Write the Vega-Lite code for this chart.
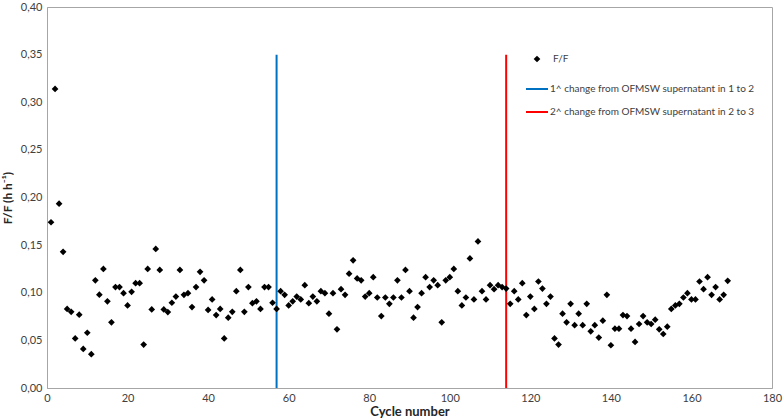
{
  "$schema": "https://vega.github.io/schema/vega-lite/v6.json",
  "autosize": {"type": "none"},
  "padding": {"left": 47, "top": 7, "right": 12, "bottom": 31},
  "width": 725,
  "height": 381,
  "background": "white",
  "config": {
    "font": "Lato",
    "view": {"stroke": "#a6a6a6", "strokeWidth": 1},
    "axis": {"labelFont": "Lato", "titleFont": "Lato", "labelColor": "#404040", "titleColor": "#262626", "domainColor": "#a6a6a6", "grid": false, "ticks": false}
  },
  "datasets": {
    "ff": [
      {"cycle": 1, "ff": 0.174, "series": "F/F"},
      {"cycle": 2, "ff": 0.314, "series": "F/F"},
      {"cycle": 3, "ff": 0.1935, "series": "F/F"},
      {"cycle": 4, "ff": 0.143, "series": "F/F"},
      {"cycle": 5, "ff": 0.083, "series": "F/F"},
      {"cycle": 6, "ff": 0.080, "series": "F/F"},
      {"cycle": 7, "ff": 0.052, "series": "F/F"},
      {"cycle": 8, "ff": 0.077, "series": "F/F"},
      {"cycle": 9, "ff": 0.041, "series": "F/F"},
      {"cycle": 10, "ff": 0.058, "series": "F/F"},
      {"cycle": 11, "ff": 0.0355, "series": "F/F"},
      {"cycle": 12, "ff": 0.113, "series": "F/F"},
      {"cycle": 13, "ff": 0.098, "series": "F/F"},
      {"cycle": 14, "ff": 0.125, "series": "F/F"},
      {"cycle": 15, "ff": 0.091, "series": "F/F"},
      {"cycle": 16, "ff": 0.069, "series": "F/F"},
      {"cycle": 17, "ff": 0.106, "series": "F/F"},
      {"cycle": 18, "ff": 0.106, "series": "F/F"},
      {"cycle": 19, "ff": 0.0996, "series": "F/F"},
      {"cycle": 20, "ff": 0.0867, "series": "F/F"},
      {"cycle": 21, "ff": 0.101, "series": "F/F"},
      {"cycle": 22, "ff": 0.110, "series": "F/F"},
      {"cycle": 23, "ff": 0.110, "series": "F/F"},
      {"cycle": 24, "ff": 0.0456, "series": "F/F"},
      {"cycle": 25, "ff": 0.125, "series": "F/F"},
      {"cycle": 26, "ff": 0.0825, "series": "F/F"},
      {"cycle": 27, "ff": 0.146, "series": "F/F"},
      {"cycle": 28, "ff": 0.124, "series": "F/F"},
      {"cycle": 29, "ff": 0.0825, "series": "F/F"},
      {"cycle": 30, "ff": 0.0797, "series": "F/F"},
      {"cycle": 31, "ff": 0.0895, "series": "F/F"},
      {"cycle": 32, "ff": 0.096, "series": "F/F"},
      {"cycle": 33, "ff": 0.124, "series": "F/F"},
      {"cycle": 34, "ff": 0.0978, "series": "F/F"},
      {"cycle": 35, "ff": 0.0996, "series": "F/F"},
      {"cycle": 36, "ff": 0.085, "series": "F/F"},
      {"cycle": 37, "ff": 0.106, "series": "F/F"},
      {"cycle": 38, "ff": 0.122, "series": "F/F"},
      {"cycle": 39, "ff": 0.113, "series": "F/F"},
      {"cycle": 40, "ff": 0.082, "series": "F/F"},
      {"cycle": 41, "ff": 0.093, "series": "F/F"},
      {"cycle": 42, "ff": 0.0766, "series": "F/F"},
      {"cycle": 43, "ff": 0.083, "series": "F/F"},
      {"cycle": 44, "ff": 0.052, "series": "F/F"},
      {"cycle": 45, "ff": 0.0738, "series": "F/F"},
      {"cycle": 46, "ff": 0.080, "series": "F/F"},
      {"cycle": 47, "ff": 0.1016, "series": "F/F"},
      {"cycle": 48, "ff": 0.124, "series": "F/F"},
      {"cycle": 49, "ff": 0.080, "series": "F/F"},
      {"cycle": 50, "ff": 0.106, "series": "F/F"},
      {"cycle": 51, "ff": 0.089, "series": "F/F"},
      {"cycle": 52, "ff": 0.091, "series": "F/F"},
      {"cycle": 53, "ff": 0.083, "series": "F/F"},
      {"cycle": 54, "ff": 0.106, "series": "F/F"},
      {"cycle": 55, "ff": 0.106, "series": "F/F"},
      {"cycle": 56, "ff": 0.0895, "series": "F/F"},
      {"cycle": 57, "ff": 0.083, "series": "F/F"},
      {"cycle": 58, "ff": 0.1016, "series": "F/F"},
      {"cycle": 59, "ff": 0.0978, "series": "F/F"},
      {"cycle": 60, "ff": 0.0867, "series": "F/F"},
      {"cycle": 61, "ff": 0.091, "series": "F/F"},
      {"cycle": 62, "ff": 0.096, "series": "F/F"},
      {"cycle": 63, "ff": 0.093, "series": "F/F"},
      {"cycle": 64, "ff": 0.108, "series": "F/F"},
      {"cycle": 65, "ff": 0.089, "series": "F/F"},
      {"cycle": 66, "ff": 0.096, "series": "F/F"},
      {"cycle": 67, "ff": 0.091, "series": "F/F"},
      {"cycle": 68, "ff": 0.1016, "series": "F/F"},
      {"cycle": 69, "ff": 0.0996, "series": "F/F"},
      {"cycle": 70, "ff": 0.078, "series": "F/F"},
      {"cycle": 71, "ff": 0.0996, "series": "F/F"},
      {"cycle": 72, "ff": 0.0616, "series": "F/F"},
      {"cycle": 73, "ff": 0.1037, "series": "F/F"},
      {"cycle": 74, "ff": 0.0978, "series": "F/F"},
      {"cycle": 75, "ff": 0.120, "series": "F/F"},
      {"cycle": 76, "ff": 0.134, "series": "F/F"},
      {"cycle": 77, "ff": 0.115, "series": "F/F"},
      {"cycle": 78, "ff": 0.113, "series": "F/F"},
      {"cycle": 79, "ff": 0.096, "series": "F/F"},
      {"cycle": 80, "ff": 0.0996, "series": "F/F"},
      {"cycle": 81, "ff": 0.1163, "series": "F/F"},
      {"cycle": 82, "ff": 0.095, "series": "F/F"},
      {"cycle": 83, "ff": 0.0755, "series": "F/F"},
      {"cycle": 84, "ff": 0.095, "series": "F/F"},
      {"cycle": 85, "ff": 0.0884, "series": "F/F"},
      {"cycle": 86, "ff": 0.095, "series": "F/F"},
      {"cycle": 87, "ff": 0.113, "series": "F/F"},
      {"cycle": 88, "ff": 0.095, "series": "F/F"},
      {"cycle": 89, "ff": 0.124, "series": "F/F"},
      {"cycle": 90, "ff": 0.1016, "series": "F/F"},
      {"cycle": 91, "ff": 0.0738, "series": "F/F"},
      {"cycle": 92, "ff": 0.085, "series": "F/F"},
      {"cycle": 93, "ff": 0.0996, "series": "F/F"},
      {"cycle": 94, "ff": 0.1163, "series": "F/F"},
      {"cycle": 95, "ff": 0.106, "series": "F/F"},
      {"cycle": 96, "ff": 0.113, "series": "F/F"},
      {"cycle": 97, "ff": 0.108, "series": "F/F"},
      {"cycle": 98, "ff": 0.069, "series": "F/F"},
      {"cycle": 99, "ff": 0.113, "series": "F/F"},
      {"cycle": 100, "ff": 0.1163, "series": "F/F"},
      {"cycle": 101, "ff": 0.125, "series": "F/F"},
      {"cycle": 102, "ff": 0.1016, "series": "F/F"},
      {"cycle": 103, "ff": 0.0867, "series": "F/F"},
      {"cycle": 104, "ff": 0.095, "series": "F/F"},
      {"cycle": 105, "ff": 0.136, "series": "F/F"},
      {"cycle": 106, "ff": 0.093, "series": "F/F"},
      {"cycle": 107, "ff": 0.1539, "series": "F/F"},
      {"cycle": 108, "ff": 0.1016, "series": "F/F"},
      {"cycle": 109, "ff": 0.093, "series": "F/F"},
      {"cycle": 110, "ff": 0.108, "series": "F/F"},
      {"cycle": 111, "ff": 0.1037, "series": "F/F"},
      {"cycle": 112, "ff": 0.108, "series": "F/F"},
      {"cycle": 113, "ff": 0.106, "series": "F/F"},
      {"cycle": 114, "ff": 0.1044, "series": "F/F"},
      {"cycle": 115, "ff": 0.0884, "series": "F/F"},
      {"cycle": 116, "ff": 0.1016, "series": "F/F"},
      {"cycle": 117, "ff": 0.093, "series": "F/F"},
      {"cycle": 118, "ff": 0.110, "series": "F/F"},
      {"cycle": 119, "ff": 0.0766, "series": "F/F"},
      {"cycle": 120, "ff": 0.096, "series": "F/F"},
      {"cycle": 121, "ff": 0.083, "series": "F/F"},
      {"cycle": 122, "ff": 0.1118, "series": "F/F"},
      {"cycle": 123, "ff": 0.1044, "series": "F/F"},
      {"cycle": 124, "ff": 0.0884, "series": "F/F"},
      {"cycle": 125, "ff": 0.096, "series": "F/F"},
      {"cycle": 126, "ff": 0.052, "series": "F/F"},
      {"cycle": 127, "ff": 0.0456, "series": "F/F"},
      {"cycle": 128, "ff": 0.078, "series": "F/F"},
      {"cycle": 129, "ff": 0.069, "series": "F/F"},
      {"cycle": 130, "ff": 0.0884, "series": "F/F"},
      {"cycle": 131, "ff": 0.066, "series": "F/F"},
      {"cycle": 132, "ff": 0.078, "series": "F/F"},
      {"cycle": 133, "ff": 0.066, "series": "F/F"},
      {"cycle": 134, "ff": 0.0884, "series": "F/F"},
      {"cycle": 135, "ff": 0.0595, "series": "F/F"},
      {"cycle": 136, "ff": 0.066, "series": "F/F"},
      {"cycle": 137, "ff": 0.0529, "series": "F/F"},
      {"cycle": 138, "ff": 0.0707, "series": "F/F"},
      {"cycle": 139, "ff": 0.0978, "series": "F/F"},
      {"cycle": 140, "ff": 0.0449, "series": "F/F"},
      {"cycle": 141, "ff": 0.0623, "series": "F/F"},
      {"cycle": 142, "ff": 0.0623, "series": "F/F"},
      {"cycle": 143, "ff": 0.0766, "series": "F/F"},
      {"cycle": 144, "ff": 0.0755, "series": "F/F"},
      {"cycle": 145, "ff": 0.0623, "series": "F/F"},
      {"cycle": 146, "ff": 0.0484, "series": "F/F"},
      {"cycle": 147, "ff": 0.0672, "series": "F/F"},
      {"cycle": 148, "ff": 0.0755, "series": "F/F"},
      {"cycle": 149, "ff": 0.069, "series": "F/F"},
      {"cycle": 150, "ff": 0.0672, "series": "F/F"},
      {"cycle": 151, "ff": 0.0717, "series": "F/F"},
      {"cycle": 152, "ff": 0.0616, "series": "F/F"},
      {"cycle": 153, "ff": 0.0567, "series": "F/F"},
      {"cycle": 154, "ff": 0.0644, "series": "F/F"},
      {"cycle": 155, "ff": 0.083, "series": "F/F"},
      {"cycle": 156, "ff": 0.0867, "series": "F/F"},
      {"cycle": 157, "ff": 0.0884, "series": "F/F"},
      {"cycle": 158, "ff": 0.095, "series": "F/F"},
      {"cycle": 159, "ff": 0.0996, "series": "F/F"},
      {"cycle": 160, "ff": 0.093, "series": "F/F"},
      {"cycle": 161, "ff": 0.093, "series": "F/F"},
      {"cycle": 162, "ff": 0.1118, "series": "F/F"},
      {"cycle": 163, "ff": 0.1037, "series": "F/F"},
      {"cycle": 164, "ff": 0.1163, "series": "F/F"},
      {"cycle": 165, "ff": 0.0978, "series": "F/F"},
      {"cycle": 166, "ff": 0.106, "series": "F/F"},
      {"cycle": 167, "ff": 0.093, "series": "F/F"},
      {"cycle": 168, "ff": 0.0978, "series": "F/F"},
      {"cycle": 169, "ff": 0.1125, "series": "F/F"}
    ],
    "changes": [
      {"cycle": 57, "y0": 0, "y1": 0.35, "label": "1^ change from OFMSW supernatant in 1 to 2"},
      {"cycle": 114, "y0": 0, "y1": 0.35, "label": "2^ change from OFMSW supernatant in 2 to 3"}
    ]
  },
  "encoding": {
    "x": {
      "field": "cycle", "type": "quantitative",
      "scale": {"domain": [0, 180], "nice": false, "zero": true},
      "axis": {"values": [0, 20, 40, 60, 80, 100, 120, 140, 160, 180], "title": "Cycle number", "titleFontSize": 13, "titleFontWeight": "bold", "labelFontSize": 11, "labelPadding": 4, "titlePadding": 2, "labelFlush": false}
    }
  },
  "layer": [
    {
      "data": {"name": "changes"},
      "mark": {"type": "rule", "strokeWidth": 2},
      "encoding": {
        "y": {"field": "y0", "type": "quantitative"},
        "y2": {"field": "y1"},
        "color": {
          "field": "label", "type": "nominal",
          "scale": {"domain": ["1^ change from OFMSW supernatant in 1 to 2", "2^ change from OFMSW supernatant in 2 to 3"], "range": ["#0070C0", "#FF0000"]},
          "legend": {"title": null, "orient": "none", "legendX": 478, "legendY": 70, "symbolType": "stroke", "symbolSize": 484, "symbolStrokeWidth": 2, "labelFont": "Lato", "labelFontSize": 10, "labelColor": "#404040", "labelOffset": 1, "rowPadding": 6, "labelLimit": 300}
        }
      }
    },
    {
      "data": {"name": "ff"},
      "mark": {"type": "point", "filled": true, "size": 45, "color": "black", "opacity": 1},
      "encoding": {
        "y": {
          "field": "ff", "type": "quantitative",
          "scale": {"domain": [0, 0.4], "nice": false},
          "axis": {"values": [0, 0.05, 0.1, 0.15, 0.2, 0.25, 0.3, 0.35, 0.4], "labelExpr": "replace(format(datum.value, '.2f'), '.', ',')", "title": "F/F (h h⁻¹)", "titleFontSize": 12, "titleFontWeight": "bold", "labelFontSize": 11, "labelPadding": 5, "titlePadding": 6, "labelFlush": false}
        },
        "shape": {
          "field": "series", "type": "nominal",
          "scale": {"domain": ["F/F"], "range": ["diamond"]},
          "legend": {"title": null, "orient": "none", "legendX": 485, "legendY": 47, "symbolFillColor": "black", "symbolStrokeColor": "black", "symbolSize": 45, "labelFont": "Lato", "labelFontSize": 10, "labelColor": "#404040", "labelOffset": 11}
        }
      }
    }
  ]
}
